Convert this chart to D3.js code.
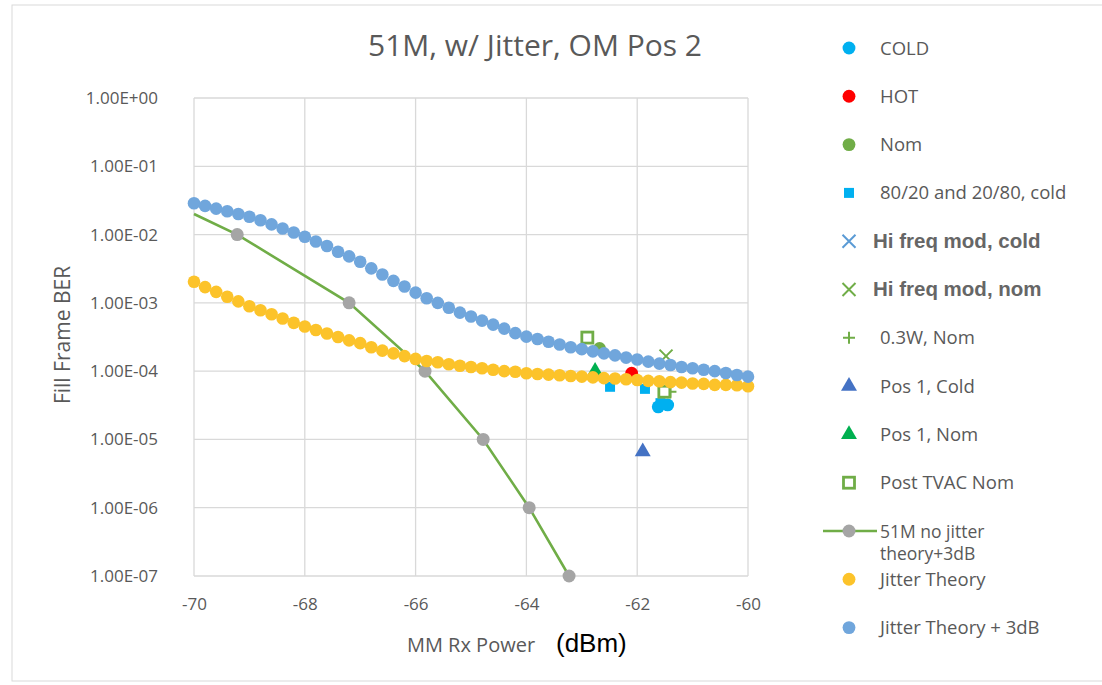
<!DOCTYPE html>
<html>
<head>
<meta charset="utf-8">
<script src="https://cdn.jsdelivr.net/npm/d3@7.9.0/dist/d3.min.js"></script>
<style>
  body { margin: 0; background: #fff; }
  text { font-family: "Open Sans", sans-serif; }
</style>
</head>
<body>
<div id="chart"></div>
<script>
// ---- data ----
const xTicks = [-70, -68, -66, -64, -62, -60];
const yTicks = [1, 1e-1, 1e-2, 1e-3, 1e-4, 1e-5, 1e-6, 1e-7];
const yTickLabels = ["1.00E+00", "1.00E-01", "1.00E-02", "1.00E-03", "1.00E-04", "1.00E-05", "1.00E-06", "1.00E-07"];

// theory curves, x step 0.2 dBm from -70 to -60
const theoryX = d3.range(51).map(i => -70 + i * 0.2);
const jitterTheory = [
  2.04e-3, 1.70e-3, 1.45e-3, 1.23e-3, 1.05e-3, 8.9e-4, 7.8e-4, 6.8e-4, 5.9e-4, 5.1e-4,
  4.5e-4, 4.0e-4, 3.55e-4, 3.16e-4, 2.82e-4, 2.57e-4, 2.24e-4, 2.0e-4, 1.82e-4, 1.66e-4,
  1.51e-4, 1.41e-4, 1.35e-4, 1.26e-4, 1.20e-4, 1.15e-4, 1.10e-4, 1.05e-4, 1.0e-4, 9.8e-5,
  9.3e-5, 9.1e-5, 8.9e-5, 8.7e-5, 8.5e-5, 8.3e-5, 8.1e-5, 7.9e-5, 7.8e-5, 7.6e-5,
  7.4e-5, 7.2e-5, 7.1e-5, 6.9e-5, 6.8e-5, 6.6e-5, 6.5e-5, 6.3e-5, 6.3e-5, 6.2e-5, 6.0e-5
];
const jitterTheory3dB = [
  2.88e-2, 2.63e-2, 2.40e-2, 2.19e-2, 2.0e-2, 1.82e-2, 1.62e-2, 1.41e-2, 1.23e-2, 1.07e-2,
  9.3e-3, 7.9e-3, 6.8e-3, 5.6e-3, 4.8e-3, 4.0e-3, 3.2e-3, 2.6e-3, 2.1e-3, 1.74e-3,
  1.41e-3, 1.17e-3, 1.0e-3, 8.5e-4, 7.2e-4, 6.3e-4, 5.5e-4, 4.8e-4, 4.2e-4, 3.6e-4,
  3.2e-4, 2.95e-4, 2.7e-4, 2.45e-4, 2.24e-4, 2.1e-4, 1.95e-4, 1.82e-4, 1.70e-4, 1.58e-4,
  1.48e-4, 1.38e-4, 1.29e-4, 1.23e-4, 1.15e-4, 1.10e-4, 1.05e-4, 1.0e-4, 9.4e-5, 8.8e-5, 8.3e-5
];

// 51M no jitter theory + 3dB (first point has no marker)
const noJitterX = [-70, -69.22, -67.2, -65.83, -64.78, -63.95, -63.23];
const noJitterY = [2.0e-2, 1e-2, 1e-3, 1e-4, 1e-5, 1e-6, 1e-7];

// measured points
const coldPts = [[-61.62, 3.0e-5], [-61.45, 3.2e-5]];
const hotPts = [[-62.10, 9.3e-5]];
const nomPts = [[-62.68, 2.15e-4]];
const split8020Pts = [[-62.49, 5.9e-5], [-61.86, 5.5e-5], [-61.58, 3.4e-5]];
const hiFreqColdPts = [];
const hiFreqNomPts = [[-61.48, 1.66e-4]];
const w03NomPts = [[-61.40, 5.0e-5]];
const pos1ColdPts = [[-61.90, 6.6e-6]];
const pos1NomPts = [[-62.76, 1.0e-4]];
const postTvacPts = [[-62.90, 3.1e-4], [-61.51, 5.0e-5]];

const legendNames = ["COLD", "HOT", "Nom", "80/20 and 20/80, cold", "Hi freq mod, cold", "Hi freq mod, nom",
  "0.3W, Nom", "Pos 1, Cold", "Pos 1, Nom", "Post TVAC Nom", "51M no jitter|theory+3dB", "Jitter Theory", "Jitter Theory + 3dB"];

// ---- drawing ----
const W = 1102, H = 685;
const svg = d3.select("#chart").append("svg")
  .attr("width", W).attr("height", H);

svg.append("rect").attr("x", 12).attr("y", 5).attr("width", 1100).attr("height", 676)
  .attr("fill", "#fff").attr("stroke", "#d9d9d9");

const x = d3.scaleLinear().domain([-70, -60]).range([194, 748]);
const y = d3.scaleLog().domain([1e-7, 1]).range([576, 98]);

const grey = "#595959";

// gridlines
svg.append("g").selectAll("line").data(yTicks).join("line")
  .attr("x1", x(-70)).attr("x2", x(-60))
  .attr("y1", d => y(d)).attr("y2", d => y(d))
  .attr("stroke", "#d9d9d9").attr("stroke-width", 1.3);
svg.append("g").selectAll("line").data(xTicks).join("line")
  .attr("x1", d => x(d)).attr("x2", d => x(d))
  .attr("y1", y(1)).attr("y2", y(1e-7))
  .attr("stroke", "#d9d9d9").attr("stroke-width", 1.3);

// axes (labels only)
const yAxis = d3.axisLeft(y).tickValues(yTicks).tickSize(0).tickPadding(36)
  .tickFormat((d, i) => yTickLabels[i]);
const gy = svg.append("g").attr("transform", `translate(${x(-70)},0)`).call(yAxis);
gy.select(".domain").remove();
gy.selectAll("text").attr("fill", grey).style("font-size", "17px").style("font-family", "Open Sans");

const xAxis = d3.axisBottom(x).tickValues(xTicks).tickSize(0).tickPadding(22)
  .tickFormat(d => String(d));
const gx = svg.append("g").attr("transform", `translate(0,${y(1e-7)})`).call(xAxis);
gx.select(".domain").remove();
gx.selectAll("text").attr("fill", grey).style("font-size", "17px").style("font-family", "Open Sans");

// title + axis titles
svg.append("text").attr("x", 535).attr("y", 56).attr("text-anchor", "middle")
  .attr("fill", grey).style("font-size", "30px").text("51M, w/ Jitter, OM Pos 2");
svg.append("text").attr("transform", "translate(70,335) rotate(-90)").attr("text-anchor", "middle")
  .attr("fill", grey).style("font-size", "21px").text("Fill Frame BER");
svg.append("text").attr("x", 471).attr("y", 652).attr("text-anchor", "middle")
  .attr("fill", grey).style("font-size", "20px").text("MM Rx Power");
svg.append("text").attr("x", 556).attr("y", 652)
  .attr("fill", "#000").style("font-family", "Liberation Sans, Arial").style("font-size", "26px").text("(dBm)");

// marker shapes
const markers = {
  circle: d3.symbol(d3.symbolCircle, 130),
  square: d3.symbol(d3.symbolSquare, 100),
  triangle: d3.symbol(d3.symbolTriangle, 110)
};

function drawX(g, cx, cy, color) {
  const s = 6.5;
  g.append("path").attr("d", `M${cx - s},${cy - s}L${cx + s},${cy + s}M${cx - s},${cy + s}L${cx + s},${cy - s}`)
    .attr("stroke", color).attr("stroke-width", 2).attr("fill", "none");
}
function drawPlus(g, cx, cy, color) {
  const s = 6;
  g.append("path").attr("d", `M${cx - s},${cy}L${cx + s},${cy}M${cx},${cy - s}L${cx},${cy + s}`)
    .attr("stroke", color).attr("stroke-width", 2).attr("fill", "none");
}

const series = [
  { pts: coldPts, kind: "circle", color: "#00b0f0" },
  { pts: hotPts, kind: "circle", color: "#ff0000" },
  { pts: nomPts, kind: "circle", color: "#70ad47" },
  { pts: split8020Pts, kind: "square", color: "#00b0f0" },
  { pts: hiFreqColdPts, kind: "x", color: "#5b9bd5" },
  { pts: hiFreqNomPts, kind: "x", color: "#70ad47" },
  { pts: w03NomPts, kind: "plus", color: "#70ad47" },
  { pts: pos1ColdPts, kind: "triangle", color: "#4472c4" },
  { pts: pos1NomPts, kind: "triangle", color: "#00b050" },
  { pts: postTvacPts, kind: "hollow", color: "#70ad47" }
];

function drawMarker(g, kind, cx, cy, color) {
  if (kind === "x") return drawX(g, cx, cy, color);
  if (kind === "plus") return drawPlus(g, cx, cy, color);
  if (kind === "hollow") {
    g.append("rect").attr("x", cx - 5.5).attr("y", cy - 5.5).attr("width", 11).attr("height", 11)
      .attr("fill", "#fff").attr("stroke", color).attr("stroke-width", 2.8);
    return;
  }
  g.append("path").attr("d", markers[kind]()).attr("transform", `translate(${cx},${cy})`).attr("fill", color);
}

const plot = svg.append("g");
series.forEach(s => s.pts.forEach(p => drawMarker(plot, s.kind, x(p[0]), y(p[1]), s.color)));

// 51M no jitter line
const nj = noJitterX.map((d, i) => [d, noJitterY[i]]);
plot.append("path").datum(nj)
  .attr("d", d3.line().x(d => x(d[0])).y(d => y(d[1])))
  .attr("fill", "none").attr("stroke", "#70ad47").attr("stroke-width", 2.6);
plot.selectAll(".nj").data(nj.slice(1)).join("circle")
  .attr("cx", d => x(d[0])).attr("cy", d => y(d[1])).attr("r", 6.5).attr("fill", "#a5a5a5");

// theory dots
plot.selectAll(".jt").data(theoryX).join("circle")
  .attr("cx", d => x(d)).attr("cy", (d, i) => y(jitterTheory[i])).attr("r", 6.3).attr("fill", "#fcc32a");
plot.selectAll(".jt3").data(theoryX).join("circle")
  .attr("cx", d => x(d)).attr("cy", (d, i) => y(jitterTheory3dB[i])).attr("r", 6.3).attr("fill", "#70a6dc");

// legend
const legendKinds = ["circle", "circle", "circle", "square", "x", "x", "plus", "triangle", "triangle", "hollow", "line", "circle", "circle"];
const legendColors = ["#00b0f0", "#ff0000", "#70ad47", "#00b0f0", "#5b9bd5", "#70ad47", "#70ad47", "#4472c4", "#00b050", "#70ad47", "#70ad47", "#fcc32a", "#70a6dc"];
const lg = svg.append("g");
legendNames.forEach((name, i) => {
  const cy = 48 + i * 48.3;
  const kind = legendKinds[i];
  if (kind === "line") {
    lg.append("line").attr("x1", 823).attr("x2", 877).attr("y1", cy).attr("y2", cy)
      .attr("stroke", "#70ad47").attr("stroke-width", 2.6);
    lg.append("circle").attr("cx", 849).attr("cy", cy).attr("r", 6.5).attr("fill", "#a5a5a5");
  } else {
    drawMarker(lg, kind, 849, cy, legendColors[i]);
  }
  const bold = name.startsWith("Hi freq");
  const wrapped = name.includes("|");
  const t = lg.append("text").attr("x", bold ? 873 : 880).attr("y", cy + 6.5)
    .attr("fill", bold ? "#666" : grey)
    .style("font-size", bold ? "20.5px" : (wrapped ? "17.5px" : "18.5px"))
    .style("font-family", bold ? "Liberation Sans, Arial" : "Open Sans")
    .style("font-weight", bold ? "bold" : "normal");
  name.split("|").forEach((part, j) => {
    t.append("tspan").attr("x", bold ? 873 : 880).attr("dy", j === 0 ? 0 : 22).text(part);
  });
});
</script>
</body>
</html>
